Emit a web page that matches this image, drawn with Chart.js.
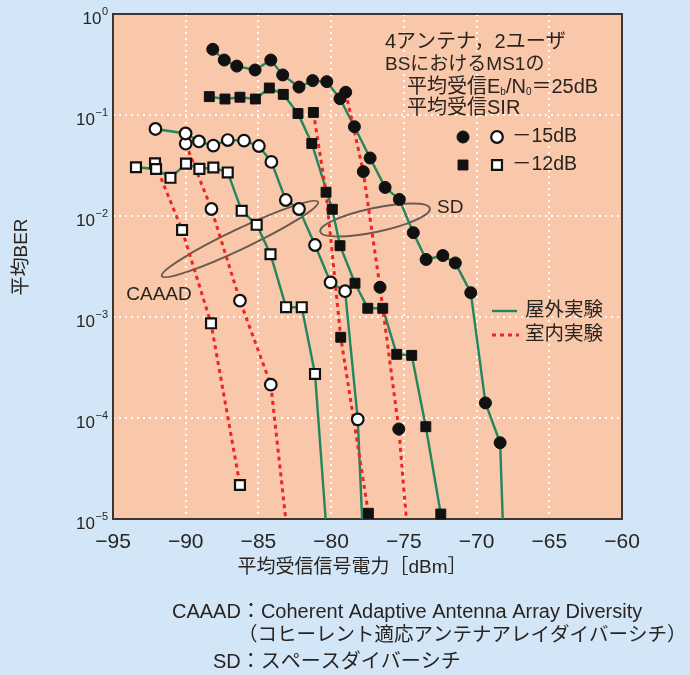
<!DOCTYPE html>
<html><head><meta charset="utf-8">
<script src="https://cdn.jsdelivr.net/npm/chart.js@4.4.1/dist/chart.umd.min.js"></script>
<style>
html,body{margin:0;padding:0;background:#d3e6f7;}
canvas{display:block;}
</style></head><body>
<canvas id="c" width="690" height="675"></canvas>
<script>
// ---- data (x: average received signal power [dBm], y: average BER) ----
// SD, SIR -15 dB (filled circles)
const sdOut15X = [-88.14,-87.35,-86.49,-85.23,-84.15,-83.33,-82.21,-81.27,-80.30,-79.39,-78.40,-77.32,-76.29,-75.31,-74.35,-73.47,-72.32,-71.46,-70.40,-69.39,-68.38,-68.15];
const sdOut15Y = [0.447,0.350,0.305,0.279,0.350,0.249,0.189,0.219,0.214,0.145,0.0766,0.0375,0.0192,0.0146,0.00684,0.00371,0.00406,0.00343,0.00174,1.41e-4,5.69e-5,6e-6];
const sdIn15X  = [-79.00,-77.79,-76.64,-75.35,-74.70];
const sdIn15Y  = [0.168,0.0275,0.00197,7.78e-5,6e-6];
// SD, SIR -12 dB (filled squares)
const sdOut12X = [-88.38,-87.30,-86.27,-85.21,-84.25,-83.29,-82.28,-81.33,-79.92,-79.39,-78.36,-77.48,-76.45,-75.49,-74.46,-73.49,-72.46];
const sdOut12Y = [0.152,0.144,0.150,0.144,0.185,0.160,0.1035,0.0522,0.01165,0.00508,0.00216,0.00122,0.00122,4.27e-4,4.17e-4,8.2e-5,1.12e-5];
const sdIn12X  = [-81.22,-80.35,-79.34,-77.44];
const sdIn12Y  = [0.106,0.0172,6.3e-4,1.14e-5];
// CAAAD, SIR -15 dB (open circles)
const caOut15X = [-92.08,-90.01,-89.09,-88.10,-87.11,-85.99,-84.97,-84.11,-83.12,-82.21,-81.11,-80.04,-79.04,-78.17,-77.84];
const caOut15Y = [0.0727,0.0656,0.0547,0.0497,0.0565,0.0557,0.0493,0.0343,0.0144,0.01173,0.00516,0.00220,0.00180,9.7e-5,8e-6];
const caIn15X  = [-90.00,-88.23,-86.27,-84.15,-83.05];
const caIn15Y  = [0.0520,0.01173,0.00145,2.14e-4,8e-6];
// CAAAD, SIR -12 dB (open squares)
const caOut12X = [-93.42,-92.04,-91.05,-89.98,-89.06,-88.10,-87.11,-86.15,-85.12,-84.17,-83.10,-82.02,-81.11,-80.33];
const caOut12Y = [0.0304,0.0292,0.0239,0.0330,0.0293,0.0302,0.0270,0.01126,0.00818,0.00418,0.00125,0.00125,2.73e-4,8e-6];
const caIn12X  = [-92.11,-90.25,-88.26,-86.27];
const caIn12Y  = [0.0332,0.00727,8.66e-4,2.17e-5];

const xTickValues = [-95,-90,-85,-80,-75,-70,-65,-60];
const yTickValues = [1e-5,1e-4,1e-3,1e-2,1e-1,1];

// ---- styles ----
const BG = '#d3e6f7', PLOT_BG = '#f9c7aa', GRID = 'rgba(255,255,255,0.95)';
const GREEN = '#23865c', RED = '#ef2424', INK = '#2a2420', FRAME = '#3c3633', ELL = '#6b5a4f';
const FONT = '"Liberation Sans", "Noto Sans CJK JP", sans-serif';

const pts = (xs, ys) => xs.map((x, i) => ({x, y: ys[i]}));
const marker = {
  fc: {pointStyle:'circle', pointRadius:6, pointBackgroundColor:'#111', pointBorderColor:'#111', pointBorderWidth:1},
  oc: {pointStyle:'circle', pointRadius:5.8, pointBackgroundColor:'#fff', pointBorderColor:'#111', pointBorderWidth:2.2},
  fs: {pointStyle:'rect', pointRadius:7, pointBackgroundColor:'#111', pointBorderColor:'#111', pointBorderWidth:1},
  os: {pointStyle:'rect', pointRadius:7, pointBackgroundColor:'#fff', pointBorderColor:'#111', pointBorderWidth:2.2}
};
const series = [
  {xs:sdOut15X, ys:sdOut15Y, m:'fc', indoor:false},
  {xs:sdIn15X,  ys:sdIn15Y,  m:'fc', indoor:true},
  {xs:sdOut12X, ys:sdOut12Y, m:'fs', indoor:false},
  {xs:sdIn12X,  ys:sdIn12Y,  m:'fs', indoor:true},
  {xs:caOut15X, ys:caOut15Y, m:'oc', indoor:false},
  {xs:caIn15X,  ys:caIn15Y,  m:'oc', indoor:true},
  {xs:caOut12X, ys:caOut12Y, m:'os', indoor:false},
  {xs:caIn12X,  ys:caIn12Y,  m:'os', indoor:true}
];
const datasets = [];
series.forEach(s => {
  datasets.push({ // line
    data: pts(s.xs, s.ys), showLine:true, pointRadius:0, borderColor: s.indoor ? RED : GREEN,
    borderWidth: s.indoor ? 3 : 2.4, borderDash: s.indoor ? [4,4] : [], tension:0, fill:false,
    order: s.indoor ? 1 : 2
  });
  const mk = marker[s.m];
  datasets.push({ // markers
    data: pts(s.xs, s.ys), showLine:false, clip:false, order:0,
    pointStyle: mk.pointStyle, pointBackgroundColor: mk.pointBackgroundColor,
    pointBorderColor: mk.pointBorderColor, pointBorderWidth: mk.pointBorderWidth,
    pointRadius: c => (c.raw && c.raw.y < 1e-5) ? 0 : mk.pointRadius
  });
});

function drawMarker(ctx, kind, x, y) {
  const mk = marker[kind];
  ctx.save();
  ctx.fillStyle = mk.pointBackgroundColor; ctx.strokeStyle = mk.pointBorderColor; ctx.lineWidth = mk.pointBorderWidth;
  ctx.beginPath();
  if (mk.pointStyle === 'circle') ctx.arc(x, y, mk.pointRadius, 0, Math.PI*2);
  else { const h = mk.pointRadius*Math.SQRT1_2; ctx.rect(x-h, y-h, 2*h, 2*h); }
  ctx.fill(); ctx.stroke(); ctx.restore();
}
function txt(ctx, s, x, y, size, align) {
  ctx.font = size + 'px ' + FONT; ctx.textAlign = align || 'left'; ctx.textBaseline = 'middle';
  ctx.fillStyle = INK; ctx.fillText(s, x, y); return ctx.measureText(s).width;
}

const deco = {
  id:'deco',
  beforeDraw(chart) {
    const {ctx, chartArea:a} = chart;
    ctx.save();
    ctx.fillStyle = BG; ctx.fillRect(0, 0, chart.width, chart.height);
    ctx.fillStyle = PLOT_BG; ctx.fillRect(a.left, a.top, a.right-a.left, a.bottom-a.top);
    ctx.restore();
  },
  beforeDatasetsDraw(chart) {
    const {ctx, chartArea:a, scales:{x, y}} = chart;
    ctx.save();
    // ellipses (CAAAD and SD groups)
    ctx.strokeStyle = ELL; ctx.lineWidth = 2;
    ctx.beginPath(); ctx.ellipse(x.getPixelForValue(-86.27), y.getPixelForValue(0.00592), 86.5, 10, -25.4*Math.PI/180, 0, Math.PI*2); ctx.stroke();
    ctx.beginPath(); ctx.ellipse(x.getPixelForValue(-76.98), y.getPixelForValue(0.00913), 56, 12, -12*Math.PI/180, 0, Math.PI*2); ctx.stroke();
    // frame
    ctx.strokeStyle = FRAME; ctx.lineWidth = 2;
    ctx.strokeRect(a.left, a.top, a.right-a.left, a.bottom-a.top);
    ctx.restore();
  },
  afterDraw(chart) {
    const {ctx, chartArea:a, scales:{x, y}} = chart;
    ctx.save();
    // y tick labels 10^n
    yTickValues.forEach(v => {
      const py = y.getPixelForValue(v);
      const k = Math.round(Math.log10(v));
      const ex = k === 0 ? '0' : '\u2212' + Math.abs(k);
      ctx.font = '11px ' + FONT;
      const ew = ctx.measureText(ex).width;
      txt(ctx, ex, a.left - 5, py - 2, 11, 'right');
      txt(ctx, '10', a.left - 5 - ew - 0.5, py + 5, 17, 'right');
    });
    // axis titles
    txt(ctx, '平均受信信号電力［dBm］', 352, 568, 19, 'center');
    ctx.save(); ctx.translate(22, 257); ctx.rotate(-Math.PI/2); txt(ctx, '平均BER', 0, 0, 19, 'center'); ctx.restore();
    // annotation block
    txt(ctx, '4アンテナ，2ユーザ', 385, 42, 20);
    txt(ctx, 'BSにおけるMS1の', 385, 65, 19);
    let cx = 407;
    cx += txt(ctx, '平均受信E', cx, 87, 20);
    cx += txt(ctx, 'b', cx, 92, 10);
    cx += txt(ctx, '/N', cx, 87, 20);
    cx += txt(ctx, '0', cx, 92, 10);
    txt(ctx, '＝25dB', cx, 87, 20);
    txt(ctx, '平均受信SIR', 407, 108, 20);
    drawMarker(ctx, 'fc', 463, 137); drawMarker(ctx, 'oc', 497, 137);
    txt(ctx, '－15dB', 512, 137, 19.5);
    drawMarker(ctx, 'fs', 463, 165); drawMarker(ctx, 'os', 497, 165);
    txt(ctx, '－12dB', 512, 165, 19.5);
    // line legend
    ctx.lineWidth = 2.4; ctx.strokeStyle = GREEN; ctx.setLineDash([]);
    ctx.beginPath(); ctx.moveTo(492, 311); ctx.lineTo(517, 311); ctx.stroke();
    ctx.lineWidth = 3; ctx.strokeStyle = RED; ctx.setLineDash([4,4]);
    ctx.beginPath(); ctx.moveTo(492, 335); ctx.lineTo(519, 335); ctx.stroke();
    ctx.setLineDash([]);
    txt(ctx, '屋外実験', 525, 311, 19.5);
    txt(ctx, '室内実験', 525, 335, 19.5);
    // group labels
    txt(ctx, 'CAAAD', 159, 295, 19, 'center');
    txt(ctx, 'SD', 437, 208, 19);
    // footnotes
    txt(ctx, 'CAAAD：Coherent Adaptive Antenna Array Diversity', 172, 612, 20);
    txt(ctx, '（コヒーレント適応アンテナアレイダイバーシチ）', 238, 636, 19.5);
    txt(ctx, 'SD：スペースダイバーシチ', 213, 662, 20);
    ctx.restore();
  }
};

new Chart(document.getElementById('c'), {
  type: 'scatter',
  data: { datasets },
  plugins: [deco],
  options: {
    responsive:false, animation:false, devicePixelRatio:1,
    layout:{padding:{left:0, right:68, top:14, bottom:0}},
    plugins:{legend:{display:false}, tooltip:{enabled:false}},
    scales:{
      x:{ type:'linear', min:-95, max:-60,
        afterBuildTicks: s => { s.ticks = xTickValues.map(v => ({value:v})); },
        afterFit: s => { s.height = 156; s.paddingLeft = 0; s.paddingRight = 0; },
        grid:{color:GRID, lineWidth:2, drawTicks:false, tickLength:0},
        border:{display:false, dash:[2,4]},
        ticks:{padding:11, color:'#262626', font:{family:FONT, size:21}, maxRotation:0, autoSkip:false,
          callback: v => '\u2212' + Math.abs(v)}
      },
      y:{ type:'logarithmic', min:1e-5, max:1,
        afterBuildTicks: s => { s.ticks = yTickValues.map(v => ({value:v})); },
        afterFit: s => { s.width = 113; },
        grid:{color:GRID, lineWidth:2, drawTicks:false, tickLength:0},
        border:{display:false, dash:[2,4]},
        ticks:{display:false}
      }
    }
  }
});
</script>
</body></html>
